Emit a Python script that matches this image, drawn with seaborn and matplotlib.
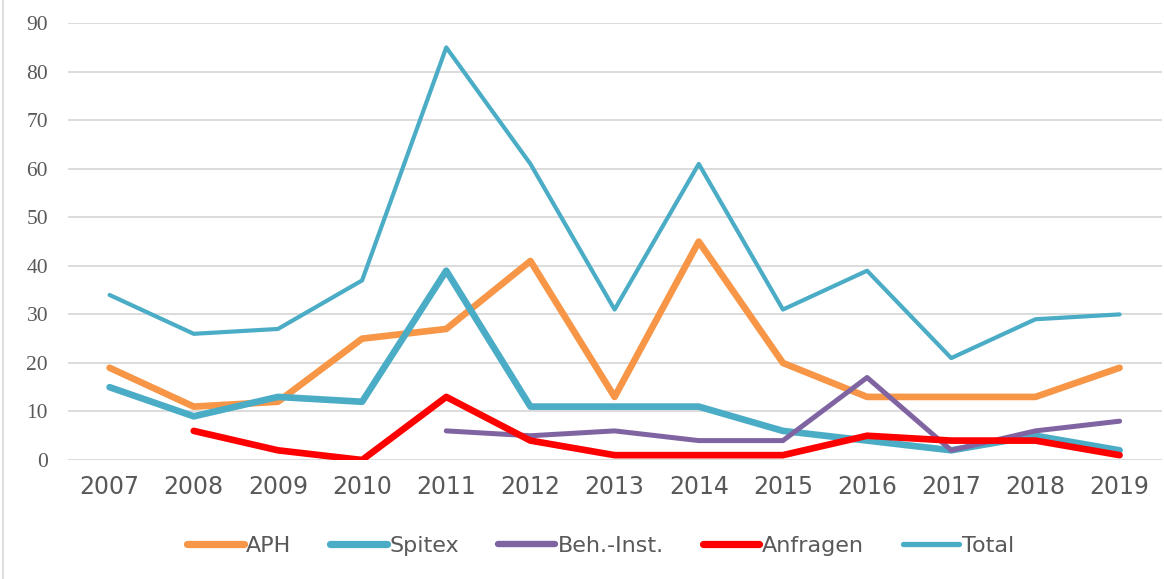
import matplotlib
matplotlib.use("Agg")
import matplotlib.pyplot as plt
from matplotlib.lines import Line2D
import numpy as np
import pandas as pd
import seaborn as sns

years = list(range(2007, 2020))
aph = [19, 11, 12, 25, 27, 41, 13, 45, 20, 13, 13, 13, 19]
spitex = [15, 9, 13, 12, 39, 11, 11, 11, 6, 4, 2, 5, 2]
beh_inst = [np.nan, np.nan, np.nan, np.nan, 6, 5, 6, 4, 4, 17, 2, 6, 8]
anfragen = [np.nan, 6, 2, 0, 13, 4, 1, 1, 1, 5, 4, 4, 1]
total = [34, 26, 27, 37, 85, 61, 31, 61, 31, 39, 21, 29, 30]

# name, values, colour, line width in plot, line width in legend
series = [
    ("APH", aph, "#F79646", 4.8, 5.2),
    ("Spitex", spitex, "#4BACC6", 4.8, 5.2),
    ("Beh.-Inst.", beh_inst, "#8064A2", 3.6, 4.6),
    ("Anfragen", anfragen, "#FF0000", 4.8, 5.2),
    ("Total", total, "#4BACC6", 3.0, 3.8),
]

sns.set_style("white")

fig = plt.figure(figsize=(11.64, 5.79), dpi=100)
ax = fig.add_axes([0.058, 0.2055, 0.94, 0.7545])

for name, vals, color, lw, _ in series:
    df = pd.DataFrame({"Jahr": years, "Wert": vals}).dropna()
    sns.lineplot(data=df, x="Jahr", y="Wert", ax=ax, color=color, linewidth=lw,
                 label=name, solid_capstyle="round", solid_joinstyle="round")

ax.set_xlim(2006.5, 2019.5)
ax.set_ylim(0, 90)
ax.set_yticks(range(0, 91, 10))
ax.set_xticks(years)
ax.set_xlabel("")
ax.set_ylabel("")
ax.grid(axis="y", color="#D9D9D9", linewidth=1.3)
ax.grid(axis="x", visible=False)
ax.set_axisbelow(True)
for s in ax.spines.values():
    s.set_visible(False)
ax.tick_params(axis="both", length=0)
ax.tick_params(axis="y", pad=14)
ax.tick_params(axis="x", pad=11)
for lbl in ax.get_yticklabels():
    lbl.set_fontfamily("Liberation Serif")
    lbl.set_fontsize(15.5)
    lbl.set_color("#595959")
for lbl in ax.get_xticklabels():
    lbl.set_fontfamily("DejaVu Sans")
    lbl.set_fontsize(17)
    lbl.set_color("#595959")

ax.legend_.remove()
handles, labels = ax.get_legend_handles_labels()
leg = fig.legend(handles, labels, loc="center", bbox_to_anchor=(0.516, 0.0575), ncol=5,
                 frameon=False, handlelength=2.55, handletextpad=0.12, columnspacing=1.75,
                 prop={"family": "DejaVu Sans", "size": 16})
for t in leg.get_texts():
    t.set_color("#595959")
for line, s in zip(leg.get_lines(), series):
    line.set_linewidth(s[4])
    line.set_solid_capstyle("round")

fig.add_artist(Line2D([0.003, 0.003], [0, 1], transform=fig.transFigure,
                      color="#D9D9D9", linewidth=1.2))

fig.savefig("out.png", dpi=100)
